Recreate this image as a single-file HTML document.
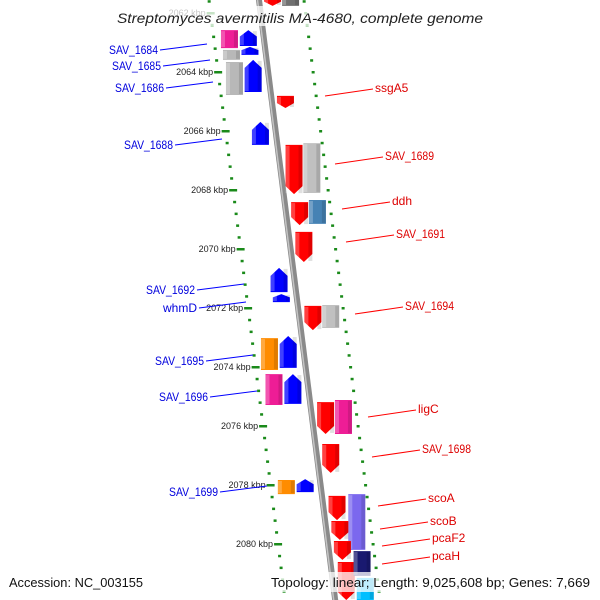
<!DOCTYPE html>
<html><head><meta charset="utf-8"><style>
body{margin:0;background:#fff}
svg{display:block;font-family:"Liberation Sans",sans-serif}
</style></head><body>
<svg id="c" width="600" height="600" viewBox="0 0 600 600"></svg>
<script>
const tickKbp=[2062,2064,2066,2068,2070,2072,2074,2076,2078,2080];
const geneStart=[2062.58,2062.58,2063.15,2063.25,2063.66,2063.59,2065.69,2070.64,2071.53,2073.02,2072.95,2074.24,2074.24,2077.83,2077.80,
 2061.4,2061.4,2064.81,2066.47,2066.41,2068.41,2068.34,2069.42,2071.93,2071.90,2075.19,2075.12,2076.61,2078.37,2078.31,2079.22,2079.90,2080.61,2080.24,2081.15];
const geneEnd=[2063.19,2063.12,2063.42,2063.59,2064.78,2064.68,2066.47,2071.46,2071.80,2074.10,2074.03,2075.29,2075.25,2078.31,2078.24,
 2061.76,2061.76,2065.22,2068.14,2068.10,2069.19,2069.15,2070.44,2072.75,2072.68,2076.27,2076.27,2077.59,2079.19,2080.2,2079.86,2080.54,2081.9,2081.08,2081.9];
const geneLane=[-2,-1,-1,-2,-2,-1,-1,-1,-1,-2,-1,-2,-1,-2,-1, 1,2,1,1,2,1,2,1,1,2,1,2,1,1,2,1,1,1,2,2];
const geneColor=["#ee1d96","#0000ff","#0000ff","#b8b8b8","#b8b8b8","#0000ff","#0000ff","#0000ff","#0000ff","#ff8c00","#0000ff","#ee1d96","#0000ff","#ff8c00","#0000ff",
 "#ff0000","#707070","#ff0000","#ff0000","#c0c0c0","#ff0000","#4682b4","#ff0000","#ff0000","#c0c0c0","#ff0000","#ee1d96","#ff0000","#ff0000","#7b68ee","#ff0000","#ff0000","#ff0000","#191970","#00bfff"];
const geneArrow=[0,1,1,0,0,1,1,1,1,0,1,0,1,0,1, 1,0,1,1,0,1,0,1,1,0,1,0,1,1,0,1,1,1,0,0];
const leftLabels=["SAV_1684","SAV_1685","SAV_1686","SAV_1688","SAV_1692","whmD","SAV_1695","SAV_1696","SAV_1699"];
const leftLabelY=[50,66,88,145,290,308,361,397,492];
const rightLabels=["ssgA5","SAV_1689","ddh","SAV_1691","SAV_1694","ligC","SAV_1698","scoA","scoB","pcaF2","pcaH"];
const rightLabelY=[88,156,201,234,306,409,449,498,521,538,556];
// layout (not data): label text anchors
const leftTextEnd=[158,161,164,173,195,197,204,208,218];
const rightTextStart=[375,385,392,396,405,418,422,428,430,432,432];

const S=document.getElementById('c');const NS="http://www.w3.org/2000/svg";
function mk(t,a,p){const e=document.createElementNS(NS,t);for(const k in a)e.setAttribute(k,a[k]);(p||S).appendChild(e);return e;}
const yOf=k=>72+(k-2064)*29.5;
const bx=y=>259+0.127*y;
let bb=mk('line',{x1:bx(-5),y1:-5,x2:bx(605),y2:605,stroke:'#8a8a8a','stroke-width':6});

mk('line',{x1:bx(-5)-1.5,y1:-5,x2:bx(605)-1.5,y2:605,stroke:'#c4c4c4','stroke-width':1.5});
for(let k=2061.2;k<2082;k+=0.4){
 const y=yOf(k);
 const lmaj=Math.abs(k-2*Math.round(k/2))<0.05, rmaj=Math.abs(k-1-2*Math.round((k-1)/2))<0.05;
 const lx=bx(y)-50,rx=bx(y)+45;
 let w=lmaj?8:3;
 let d=mk('rect',{x:lx-w/2,y:y-1,width:w,height:2.5,fill:'#1a8a1a'});
 
 w=rmaj?8:3;
 let d2=mk('rect',{x:rx-w/2,y:y-1,width:w,height:2.5,fill:'#1a8a1a'});
 
}
tickKbp.forEach(k=>{const y=yOf(k);
 let t=mk('text',{x:bx(y)-55,y:y+3,'font-size':9,fill:'#222','text-anchor':'end'});t.textContent=k+' kbp';
 });
const laneOff={'-2':-43,'-1':-24,'1':5,'2':23};
geneStart.forEach((s,i)=>{
 const y1=yOf(s),y2=yOf(geneEnd[i]),x=bx((y1+y2)/2)+laneOff[geneLane[i]],w=17;
 const g=mk('g',{});
 
 const h=Math.min(8,(y2-y1)*0.4);let pts;
 if(!geneArrow[i])pts=[[x,y1],[x+w,y1],[x+w,y2],[x,y2]];
 else if(geneLane[i]<0)pts=[[x+w/2,y1],[x+w,y1+h],[x+w,y2],[x,y2],[x,y1+h]];
 else pts=[[x,y1],[x+w,y1],[x+w,y2-h],[x+w/2,y2],[x,y2-h]];
 mk('polygon',{points:pts.map(p=>p.join(',')).join(' '),fill:geneColor[i]},g);
 mk('rect',{x:x,y:y1+1,width:4,height:Math.max(0,y2-y1-2),fill:'#fff',opacity:0.25},g);
 mk('rect',{x:x+w-4,y:y1+1,width:4,height:Math.max(0,y2-y1-2),fill:'#000',opacity:0.12},g);
});
function lab(l,x,y,fill,anchor){
 const a={x:x,y:y,'font-size':12,fill:fill,'text-anchor':anchor};
 if(l.length>=8){a.textLength=49;a.lengthAdjust='spacingAndGlyphs';}
 const t=mk('text',a);t.textContent=l;return t;
}
leftLabels.forEach((l,i)=>{const ly=leftLabelY[i];const ex=leftTextEnd[i];
 let t=lab(l,ex,ly+4,'#0000dd','end');
 
 
 mk('line',{x1:ex+2,y1:ly,x2:ex+49,y2:ly-6,stroke:'#0000ff','stroke-width':1});
});
rightLabels.forEach((l,i)=>{const ly=rightLabelY[i];const sx=rightTextStart[i];
 mk('line',{x1:sx-50,y1:ly+8,x2:sx-2,y2:ly+1,stroke:'#ff0000','stroke-width':1});
 let t=lab(l,sx,ly+4,'#dd0000','start');
 
 
});
mk('rect',{x:110,y:6,width:380,height:20,fill:'#fff',opacity:0.75});
let ti=mk('text',{x:117,y:23,'font-size':14,'font-style':'italic',fill:'#222',textLength:366,lengthAdjust:'spacingAndGlyphs'});ti.textContent='Streptomyces avermitilis MA-4680, complete genome';

mk('rect',{x:0,y:572,width:600,height:20,fill:'#fff',opacity:0.75});
let a=mk('text',{x:9,y:587,'font-size':13,fill:'#111',textLength:134,lengthAdjust:'spacingAndGlyphs'});a.textContent='Accession: NC_003155';

let b=mk('text',{x:271,y:587,'font-size':13,fill:'#111',textLength:319,lengthAdjust:'spacingAndGlyphs'});b.textContent='Topology: linear; Length: 9,025,608 bp; Genes: 7,669';

</script>
</body></html>
